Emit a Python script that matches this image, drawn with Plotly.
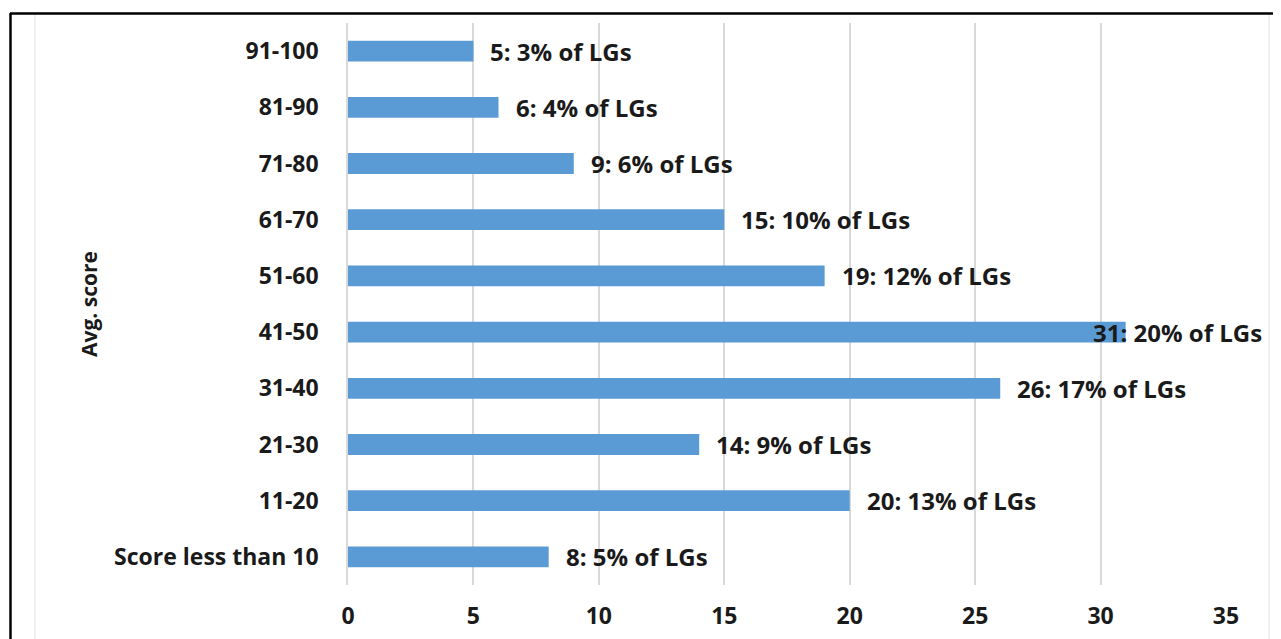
import plotly.graph_objects as go

categories = ["Score less than 10", "11-20", "21-30", "31-40", "41-50",
              "51-60", "61-70", "71-80", "81-90", "91-100"]
counts = [8, 20, 14, 26, 31, 19, 15, 9, 6, 5]
percents = [5, 13, 9, 17, 20, 12, 10, 6, 4, 3]
x_ticks = [0, 5, 10, 15, 20, 25, 30, 35]
y_title = "Avg. score"

OFF = 8  # page body margin
W, H = 1281, 639
L, T = 348 - OFF, 23 - OFF
R = W - (1226 - OFF)
B = H - (585 - OFF)
FONT = "Open Sans"
BAR = "#5B9BD5"
TXT = "#1a1a1a"

fig = go.Figure(go.Bar(
    y=categories, x=counts, orientation="h",
    marker=dict(color=BAR, line=dict(width=0)),
    width=0.37, hoverinfo="skip",
))


def to_paper_x(p):
    return (p - OFF - L) / (W - L - R)


def to_paper_y(p):
    return 1 - (p - OFF - T) / (H - T - B)


annotations = []
for c, v, p in zip(categories, counts, percents):
    annotations.append(dict(
        x=v, y=c, xref="x", yref="y", text=f"{v}: {p}% of LGs",
        showarrow=False, xanchor="left", yanchor="middle",
        xshift=(-34 if v > 30 else 16), borderpad=0,
        font=dict(family=FONT, size=24, color=TXT, weight="bold"),
    ))

annotations.append(dict(
    x=to_paper_x(89), y=to_paper_y(304), xref="paper", yref="paper", text=y_title,
    textangle=-90, showarrow=False, xanchor="center", yanchor="middle",
    font=dict(family=FONT, size=21, color=TXT, weight="bold"),
))

shapes = [
    dict(type="line", xref="paper", yref="paper",
         x0=to_paper_x(10), x1=to_paper_x(1290), y0=to_paper_y(13.5), y1=to_paper_y(13.5),
         line=dict(color="black", width=2.5)),
    dict(type="line", xref="paper", yref="paper",
         x0=to_paper_x(10.5), x1=to_paper_x(10.5), y0=to_paper_y(13), y1=to_paper_y(650),
         line=dict(color="black", width=2.5)),
    dict(type="line", xref="paper", yref="paper",
         x0=to_paper_x(35), x1=to_paper_x(35), y0=to_paper_y(15), y1=to_paper_y(650),
         line=dict(color="#EBEBEB", width=1.5)),
    dict(type="line", xref="paper", yref="paper",
         x0=to_paper_x(1269), x1=to_paper_x(1269), y0=to_paper_y(15), y1=to_paper_y(650),
         line=dict(color="#F0F0F0", width=2)),
]

fig.update_layout(
    width=W, height=H,
    margin=dict(l=L, r=R, t=T, b=B, pad=0),
    paper_bgcolor="white", plot_bgcolor="white",
    showlegend=False,
    xaxis=dict(range=[0, 35], tickvals=x_ticks, showgrid=True,
               gridcolor="#D9D9D9", gridwidth=1.5, zeroline=False,
               showline=False, ticks="", ticklabelstandoff=15,
               tickfont=dict(family=FONT, size=23, color=TXT, weight="bold")),
    yaxis=dict(categoryorder="array", categoryarray=categories,
               range=[-0.5, 9.5], showgrid=False, zeroline=False,
               showline=True, linecolor="#D9D9D9", linewidth=1.5,
               ticks="", ticklabelstandoff=23,
               tickfont=dict(family=FONT, size=23, color=TXT, weight="bold")),
    annotations=annotations, shapes=shapes,
)

fig.write_html("out.html")
